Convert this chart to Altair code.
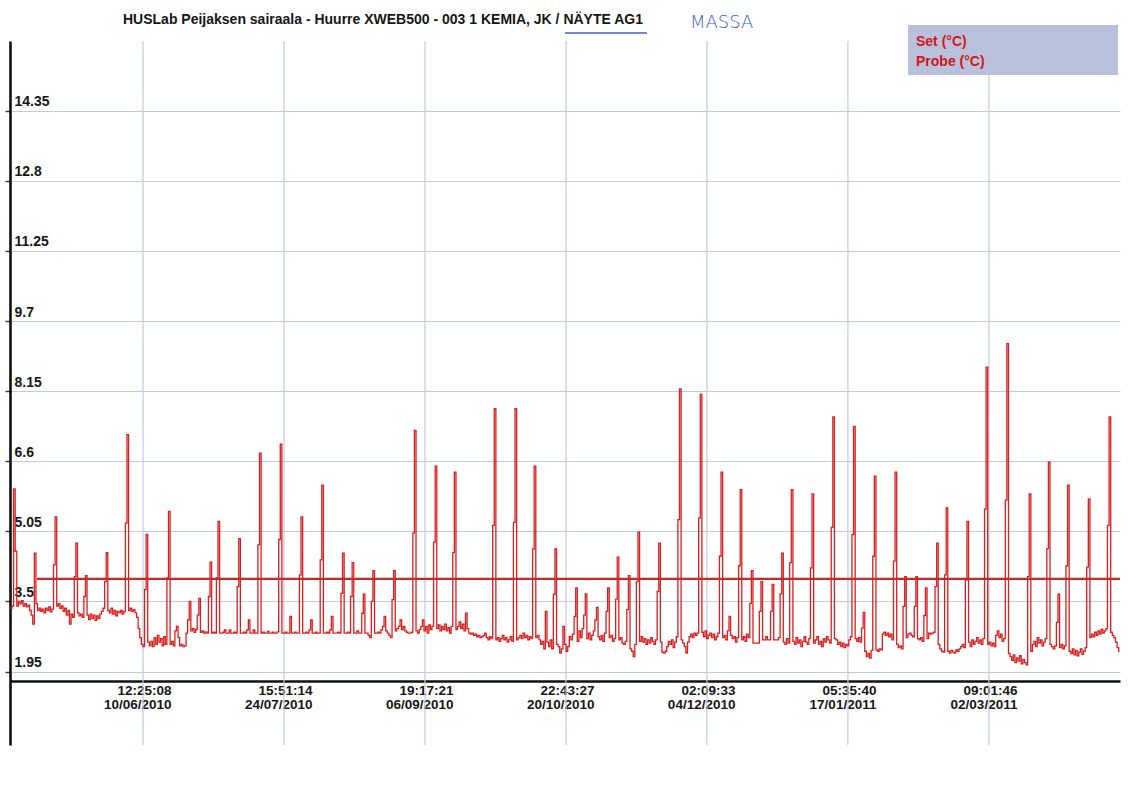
import altair as alt
import pandas as pd

# ---- data -------------------------------------------------------------
# Probe temperature, one reading every 12 hours from 30/04/2010 00:00
probe_start = "2010-04-30 00:00:00"
probe_values = [
    3.35, 3.40, 5.99, 4.61, 3.40, 3.50, 3.45, 3.52, 3.40, 3.45,
    3.38, 3.42, 3.30, 3.20, 3.00, 4.57, 3.45, 3.30, 3.35, 3.28,
    3.33, 3.25, 3.35, 3.30, 3.38, 3.27, 3.33, 4.31, 5.37, 3.40,
    3.45, 3.35, 3.40, 3.28, 3.35, 3.20, 3.30, 3.00, 3.22, 3.15,
    4.05, 4.79, 3.25, 3.18, 3.22, 3.15, 3.61, 4.07, 3.20, 3.10,
    3.22, 3.12, 3.20, 3.08, 3.18, 3.12, 3.22, 3.28, 3.35, 3.94,
    4.58, 3.30, 3.25, 3.35, 3.22, 3.30, 3.18, 3.28, 3.25, 3.30,
    3.22, 3.28, 5.23, 7.19, 3.30, 3.35, 3.28, 3.32, 3.25, 3.15,
    2.90, 2.70, 2.55, 2.50, 3.76, 4.98, 2.60, 2.52, 2.62, 2.50,
    2.70, 2.55, 2.75, 2.60, 2.68, 2.52, 2.72, 2.55, 4.02, 5.49,
    2.55, 2.62, 2.52, 2.85, 2.95, 2.70, 2.52, 2.55, 2.50, 2.52,
    2.80, 3.09, 3.50, 2.85, 2.90, 2.82, 2.88, 3.20, 3.57, 2.82,
    2.85, 2.80, 2.83, 2.80, 3.61, 4.37, 2.80, 2.82, 2.80, 4.02,
    5.27, 2.80, 2.80, 2.82, 2.87, 2.80, 2.80, 2.87, 2.80, 2.80,
    2.82, 2.80, 3.83, 4.89, 2.80, 2.80, 2.82, 2.80, 2.87, 3.09,
    2.80, 2.80, 2.87, 2.80, 2.80, 4.75, 6.78, 2.80, 2.82, 2.80,
    2.80, 2.84, 2.80, 2.80, 2.82, 2.80, 2.80, 2.83, 4.87, 6.98,
    2.80, 2.80, 2.82, 2.80,
    2.80, 3.17, 2.80, 2.80, 2.82, 2.80, 2.80, 4.09, 5.37, 2.80,
    2.80, 2.82, 2.80, 2.87, 3.09, 2.80, 2.80, 2.82, 2.80, 2.80,
    4.42, 6.07, 2.80, 2.80, 2.82, 2.80, 2.87, 3.17, 2.80, 2.80,
    2.80, 2.82, 2.80, 3.68, 4.57, 2.80, 2.80, 2.82, 2.80, 3.61,
    4.36, 2.80, 2.80, 2.85, 2.80, 2.80, 3.24, 3.66, 2.80, 2.80,
    2.75, 2.70, 3.50, 4.18, 2.80, 2.80, 2.82, 2.80, 2.87, 2.95,
    3.17, 2.85, 2.80, 2.75, 2.70, 3.54, 4.18, 2.85, 2.90, 2.95,
    3.09, 2.88, 2.95, 2.85, 2.82, 2.80, 2.80, 2.82, 5.01, 7.28,
    2.85, 2.80, 2.88, 2.95, 3.09, 2.85, 2.95, 2.80, 2.98, 2.88,
    2.95, 4.81, 6.49, 2.90, 2.98, 2.85, 2.95, 2.88, 3.00, 2.85,
    2.92, 2.80, 2.95, 4.58, 6.36, 2.88, 2.95, 3.05, 2.90, 3.00,
    2.85, 3.24, 2.90, 2.80, 2.78, 2.80, 2.75, 2.78, 2.72, 2.75,
    2.70, 2.72, 2.75, 2.80, 2.70, 2.65, 2.72, 2.68, 5.18, 7.76,
    2.65, 2.70, 2.62, 2.68, 2.75, 2.65, 2.70, 2.60, 2.65, 2.72,
    2.62, 5.25, 7.76, 2.65, 2.70, 2.75, 2.68, 2.80, 2.70, 2.75,
    2.65, 2.72, 2.68, 4.66, 6.49, 2.70, 2.75, 2.65, 2.55, 2.62,
    2.45, 3.28, 2.60, 2.50, 2.65, 2.45, 3.66, 4.66, 2.55, 2.50,
    2.36, 2.45, 2.95, 2.55, 2.40, 2.50,
    2.72, 2.65, 2.78, 3.17, 3.80, 2.62, 2.85, 2.70, 2.90, 3.20,
    3.67, 2.68, 2.80, 2.65, 2.75, 2.85, 3.09, 3.37, 2.72, 2.65,
    2.75, 2.62, 2.80, 3.28, 3.80, 2.70, 2.75, 2.62, 2.68, 3.55,
    4.48, 2.65, 2.70, 2.58, 2.55, 2.62, 3.32, 4.07, 2.45, 2.40,
    2.28, 2.55, 3.94, 5.03, 2.62, 2.72, 2.60, 2.68, 2.55, 2.65,
    2.58, 2.70, 2.62, 2.55, 2.65, 3.72, 4.79, 2.60, 2.38, 2.36,
    2.40, 2.50, 2.62, 2.55, 2.65, 2.48, 2.60, 2.72, 5.31, 8.20,
    2.65, 2.58, 2.50, 2.36, 2.60, 2.72, 2.78, 2.70, 2.80, 2.75,
    2.80, 5.35, 8.08, 2.82, 2.72, 2.85, 2.68, 2.75, 2.80, 2.70,
    2.78, 2.65, 2.72, 2.80, 4.50, 6.36, 2.70, 2.75, 2.65, 2.85,
    3.17, 2.75, 2.68, 2.72, 2.60, 2.70, 4.29, 5.97, 2.65, 2.72,
    2.62, 2.78, 2.70, 3.46, 4.18, 2.58, 2.58, 2.58, 2.58, 3.28,
    3.94, 2.65, 2.65, 2.72, 2.65, 2.65, 3.28, 3.88, 2.65, 2.65,
    2.65, 2.70, 3.67, 4.57, 2.60, 2.55, 2.68, 2.58, 4.36, 5.97,
    2.62, 2.55, 2.70, 2.58, 2.65, 2.50, 2.62, 2.72, 2.60, 2.55,
    2.68, 4.24, 5.88, 2.58, 2.65, 2.72, 2.55, 2.62, 2.50, 2.68,
    2.60, 2.72, 2.65, 2.58, 5.14, 7.58, 2.68, 2.65, 2.55, 2.60,
    2.50, 2.58, 2.48, 2.55, 2.52,
    2.65, 2.72, 4.98, 7.37, 2.68, 2.62, 2.70, 2.60, 2.91, 3.26,
    2.40, 2.28, 2.35, 2.25, 2.42, 4.50, 6.27, 2.43, 2.40, 2.45,
    2.43, 2.78, 2.82, 2.75, 2.80, 2.72, 2.78, 2.65, 4.39, 6.36,
    2.55, 2.48, 2.52, 2.45, 3.39, 4.05, 2.70, 2.78, 2.80, 2.75,
    2.72, 3.39, 4.05, 2.68, 2.65, 2.70, 2.62, 3.19, 3.80, 2.68,
    2.80, 2.78, 2.80, 2.82, 3.83, 4.79, 2.55, 2.45, 2.40, 2.38,
    4.09, 5.57, 2.40, 2.36, 2.42, 2.38, 2.36, 2.43, 2.40, 2.45,
    2.50, 2.55, 2.48, 3.97, 5.27, 2.60, 2.50, 2.65, 2.55, 2.62,
    2.70, 2.58, 2.65, 2.55, 2.68, 5.54, 8.68, 2.55, 2.60, 2.52,
    2.58, 2.50, 2.75, 2.85, 2.70, 2.78, 2.62, 2.68, 5.74, 9.20,
    2.35, 2.28, 2.20, 2.32, 2.15, 2.25, 2.18, 2.30, 2.12, 2.22,
    2.15, 2.10, 4.05, 5.88, 2.40, 2.55, 2.62, 2.50, 2.70, 2.58,
    2.65, 2.52, 2.60, 2.68, 4.67, 6.58, 2.55, 2.50, 2.45, 2.52,
    3.04, 3.66, 2.48, 2.55, 2.45, 2.52, 4.29, 6.07, 2.40, 2.35,
    2.45, 2.32, 2.42, 2.30, 2.38, 2.45, 2.33, 2.40, 2.48, 4.26,
    5.77, 2.70, 2.78, 2.72, 2.82, 2.75, 2.85, 2.78, 2.88, 2.80,
    2.85, 2.90, 5.18, 7.58, 2.82, 2.75, 2.70, 2.60, 2.48, 2.38,
]

# Set point
set_times = ["2010-05-08 08:00:00", "2011-04-12 10:00:00"]
set_values = [4.0, 4.0]

series_names = ["Set (°C)", "Probe (°C)"]
series_colors = ["#c42a2a", "#dc1e1e"]

tick_times = [
    "2010-06-10 12:25:08", "2010-07-24 15:51:14", "2010-09-06 19:17:21",
    "2010-10-20 22:43:27", "2010-12-04 02:09:33", "2011-01-17 05:35:40",
    "2011-03-02 09:01:46",
]
y_ticks = [1.95, 3.5, 5.05, 6.6, 8.15, 9.7, 11.25, 12.8, 14.35]
x_domain = ["2010-04-29 21:00:00", "2011-04-12 10:00:00"]
y_domain = [0.327, 15.89]

title_text = "HUSLab Peijaksen sairaala - Huurre XWEB500 - 003 1 KEMIA, JK / NÄYTE AG1"
note_text = "MASSA"

# ---- frames -------------------------------------------------------------
probe_df = pd.DataFrame({
    "time": pd.date_range(probe_start, periods=len(probe_values), freq="12h").strftime("%Y-%m-%d %H:%M:%S"),
    "value": probe_values,
    "series": series_names[1],
})
set_df = pd.DataFrame({"time": set_times, "value": set_values, "series": series_names[0]})
tick_df = pd.DataFrame({"time": tick_times})


def to_dt(s):
    t = pd.Timestamp(s)
    return alt.DateTime(year=t.year, month=t.month, date=t.day,
                        hours=t.hour, minutes=t.minute, seconds=t.second)


FONT = "Liberation Sans"
W, H = 1110, 704

x_scale = alt.Scale(domain=[to_dt(x_domain[0]), to_dt(x_domain[1])], nice=False)
y_scale = alt.Scale(domain=y_domain, nice=False, zero=False)

x_axis = alt.Axis(
    title=None, values=[to_dt(t) for t in tick_times],
    labelExpr="[timeFormat(datum.value, '%H:%M:%S'), timeFormat(datum.value, '%d/%m/%Y')]",
    offset=-64, grid=False, ticks=False,
    domainColor="#111111", domainWidth=2.7,
    labelAlign="right", labelOffset=28, labelBaseline="top", labelPadding=2,
    labelLineHeight=14, labelFont=FONT, labelFontSize=13.5, labelFontWeight="bold",
    labelColor="#161616", labelOverlap=False, labelFlush=False,
)
y_axis = alt.Axis(
    title=None, values=y_ticks, labelExpr="'' + datum.value",
    grid=True, gridColor="#c2cadf", gridWidth=1.2,
    domainColor="#111111", domainWidth=2.6,
    ticks=True, tickSize=5, tickColor="#333333", tickWidth=1.4,
    labelAlign="left", labelBaseline="alphabetic", labelPadding=-9, labelOffset=-5,
    labelFont=FONT, labelFontSize=14, labelFontWeight="bold", labelColor="#161616",
    labelOverlap=False, labelFlush=False,
)

color = alt.Color(
    "series:N",
    scale=alt.Scale(domain=series_names, range=series_colors),
    legend=alt.Legend(
        title=None, orient="none", legendX=892, legendY=-6, direction="vertical",
        labelFont=FONT, labelFontSize=14, labelFontWeight="bold", labelColor="#d4151b",
        symbolOpacity=0, symbolSize=1, symbolStrokeWidth=0, labelOffset=0,
        rowPadding=6, padding=0,
    ),
)

# vertical grid lines at the time ticks
grid_v = alt.Chart(tick_df).mark_rule(color="#c2cadf", strokeWidth=1.2).encode(
    x=alt.X("time:T", scale=x_scale, axis=x_axis)
)

# legend backdrop
one = pd.DataFrame({"k": [0]})
legend_box = alt.Chart(one).mark_rect(fill="#b8c1d9").encode(
    x=alt.value(898), x2=alt.value(1108), y=alt.value(-16), y2=alt.value(34)
)

probe = alt.Chart(probe_df).mark_line(interpolate="step-after", strokeWidth=1.3).encode(
    x=alt.X("time:T", scale=x_scale, axis=x_axis),
    y=alt.Y("value:Q", scale=y_scale, axis=y_axis),
    color=color,
)
setp = alt.Chart(set_df).mark_line(strokeWidth=2.2).encode(
    x=alt.X("time:T", scale=x_scale, axis=x_axis),
    y=alt.Y("value:Q", scale=y_scale, axis=y_axis),
    color=color,
)

title = alt.Chart(pd.DataFrame({"t": [title_text]})).mark_text(
    font=FONT, fontSize=14, fontWeight="bold", color="#151515",
    align="left", baseline="alphabetic",
).encode(text="t:N", x=alt.value(113), y=alt.value(-17))

note = alt.Chart(pd.DataFrame({"t": [note_text]})).mark_text(
    font="DejaVu Sans", fontSize=18, fontWeight=200, color="#3b5fd0",
    align="left", baseline="alphabetic",
).encode(text="t:N", x=alt.value(680), y=alt.value(-13))

underline = alt.Chart(one).mark_rule(color="#3b5fd0", strokeWidth=1.5).encode(
    x=alt.value(555), x2=alt.value(637), y=alt.value(-8)
)

chart = alt.layer(grid_v, legend_box, probe, setp, title, note, underline).properties(
    width=W, height=H,
    autosize=alt.AutoSizeParams(type="none"),
    padding={"left": 10, "top": 41, "right": 19, "bottom": 49},
    background="white",
).configure_view(stroke=None)

chart.save("out.html", embed_options={"renderer": "svg", "actions": False})
